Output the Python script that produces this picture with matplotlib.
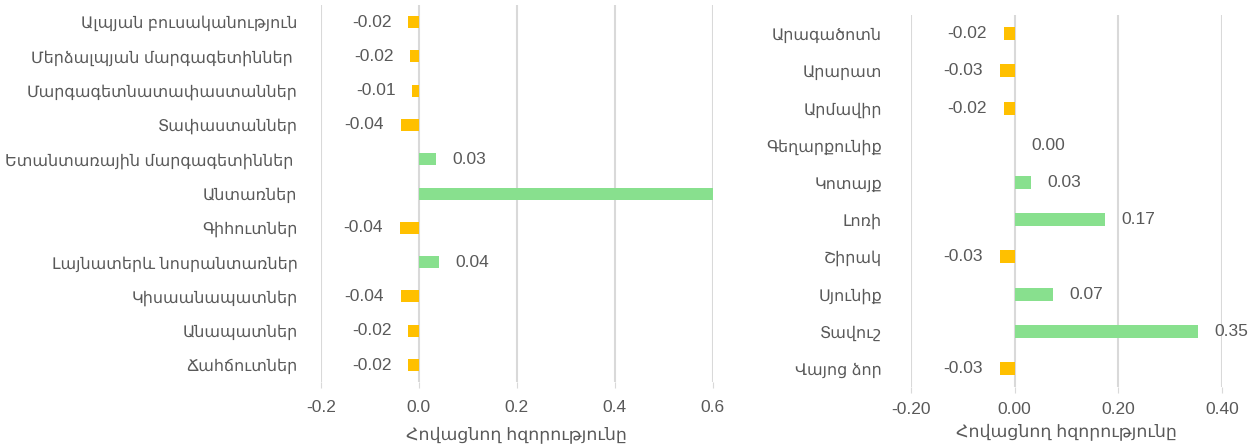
import matplotlib.pyplot as plt
import numpy as np

# left panel: vegetation types
veg_names = ['Ալպյան բուսականություն', 'Մերձալպյան մարգագետիններ ', 'Մարգագետնատափաստաններ',
             'Տափաստաններ', 'Ետանտառային մարգագետիններ ', 'Անտառներ', 'Գիհուտներ',
             'Լայնատերև նոսրանտառներ', 'Կիսաանապատներ', 'Անապատներ', 'Ճահճուտներ']
veg_values = [-0.022, -0.018, -0.014, -0.037, 0.034, 0.60, -0.039, 0.041, -0.037, -0.022, -0.022]

# right panel: regions
reg_names = ['Արագածոտն', 'Արարատ', 'Արմավիր', 'Գեղարքունիք', 'Կոտայք', 'Լոռի',
             'Շիրակ', 'Սյունիք', 'Տավուշ', 'Վայոց ձոր']
reg_values = [-0.021, -0.029, -0.021, 0.0, 0.031, 0.174, -0.029, 0.074, 0.354, -0.029]

xlabel = 'Հովացնող հզորությունը'

ORANGE = '#FFC000'
GREEN = '#88E08E'
TXT = '#595959'
GRID = '#D9D9D9'
FONT = ['Liberation Sans', 'DejaVu Sans']

plt.rcParams['font.family'] = FONT
plt.rcParams['text.color'] = TXT


def draw(ax, names, values, xlim, ticks, fmt, pad, tpad, lpad):
    y = np.arange(len(names))
    colors = [GREEN if v >= 0 else ORANGE for v in values]
    ax.barh(y, values, height=0.35, color=colors, zorder=3)
    for yi, v in zip(y, values):
        if v >= xlim[1]:
            # label falls outside the plot, hidden like in the original
            continue
        if v >= 0:
            ax.annotate('%.2f' % v, (v, yi), xytext=(12, 0), textcoords='offset points',
                        ha='left', va='center', fontsize=12.5, color=TXT)
        else:
            ax.annotate('%.2f' % v, (v, yi), xytext=(-12, 0), textcoords='offset points',
                        ha='right', va='center', fontsize=12.5, color=TXT)
    ax.set_yticks(y)
    ax.set_yticklabels(names, fontsize=11.5)
    ax.set_ylim(len(names) - 0.5, -0.5)
    ax.set_xlim(*xlim)
    ax.set_xticks(ticks)
    ax.set_xticklabels([fmt % t for t in ticks], fontsize=12.5)
    ax.tick_params(axis='y', length=0, pad=pad, colors=TXT)
    ax.tick_params(axis='x', length=4, color=GRID, colors=TXT, pad=tpad)
    ax.grid(axis='x', color=GRID, linewidth=1.5, zorder=0)
    for s in ax.spines.values():
        s.set_visible(False)
    ax.set_xlabel(xlabel, fontsize=12.5, color=TXT, labelpad=lpad)


fig = plt.figure(figsize=(12.59, 4.47), dpi=100)
ax1 = fig.add_axes([0.255, 0.145, 0.311, 0.844])
ax2 = fig.add_axes([0.7236, 0.134, 0.247, 0.832])

draw(ax1, veg_names, veg_values, (-0.2, 0.6), [-0.2, 0.0, 0.2, 0.4, 0.6], '%.1f', 17, 9, 8)
draw(ax2, reg_names, reg_values, (-0.2, 0.4), [-0.2, 0.0, 0.2, 0.4], '%.2f', 21, 7, 4)

fig.savefig('out.png', dpi=100)
